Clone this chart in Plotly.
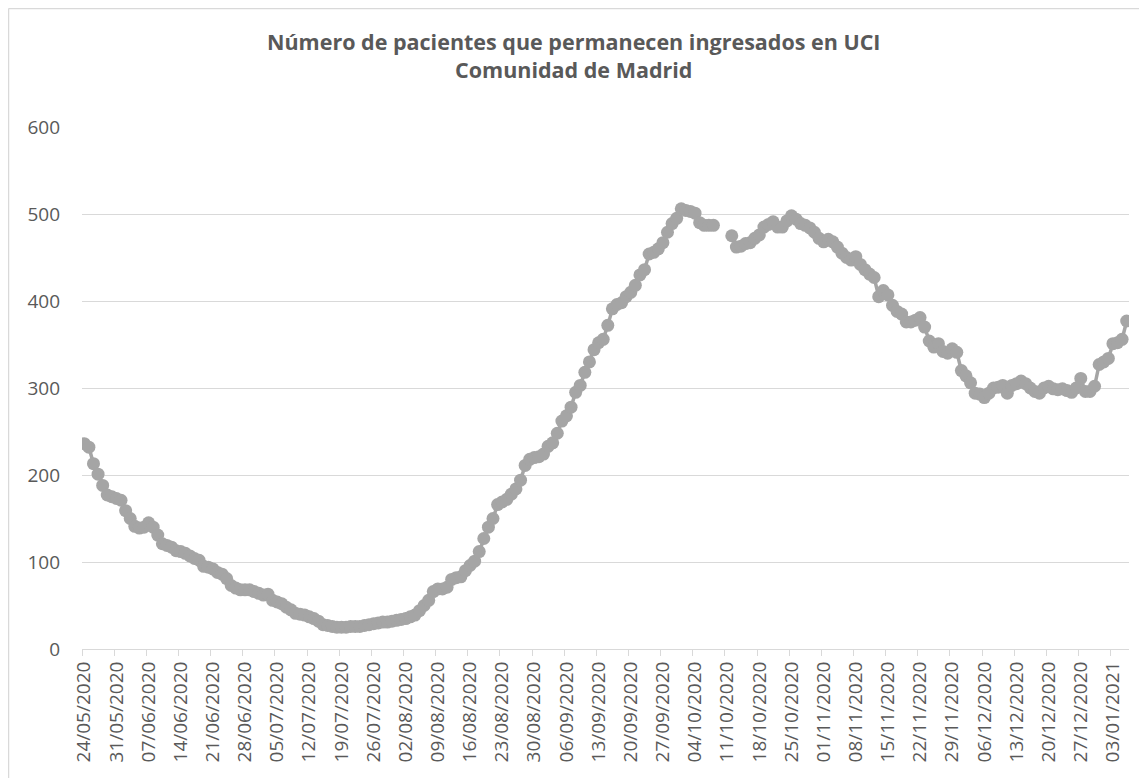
import plotly.graph_objects as go
import pandas as pd

start_date = "2020-05-24"

# Pacientes ingresados en UCI; None = sin dato
uci = [
    236, 232, 213, 201, 188, 177, 175, 173, 171, 159,
    150, 141, 139, 140, 145, 140, 131, 121, 119, 117,
    113, 112, 110, 107, 104, 102, 95, 94, 92, 88,
    86, 81, 73, 70, 68, 68, 68, 66, 64, 62,
    63, 56, 54, 52, 48, 45, 41, 40, 39, 37,
    35, 32, 28, 27, 26, 25, 25, 25, 26, 26,
    26, 27, 28, 29, 30, 31, 31, 32, 33, 34,
    35, 37, 39, 44, 50, 56, 66, 69, 69, 71,
    80, 82, 83, 90, 96, 101, 112, 127, 140, 150,
    166, 169, 172, 178, 184, 194, 211, 218, 220, 221,
    224, 233, 237, 248, 262, 268, 278, 295, 303, 318,
    330, 344, 352, 356, 372, 391, 396, 398, 405, 410,
    418, 430, 436, 454, 456, 460, 467, 479, 489, 495,
    506, 504, 503, 501, 490, 487, 487, 487, None, None,
    None, 475, 462, 463, 466, 467, 472, 476, 485, 488,
    491, 485, 485, 492, 498, 494, 489, 487, 484, 479,
    472, 468, 471, 468, 462, 455, 450, 447, 451, 442,
    436, 431, 427, 405, 412, 407, 395, 388, 385, 376,
    376, 378, 381, 370, 354, 347, 351, 342, 340, 345,
    341, 320, 314, 306, 294, 293, 289, 294, 300, 301,
    303, 294, 303, 305, 308, 305, 300, 296, 294, 300,
    302, 299, 298, 299, 297, 295, 300, 311, 296, 296,
    302, 327, 330, 334, 351, 352, 356, 377,
]

dates = pd.date_range(start_date, periods=len(uci)).strftime("%Y-%m-%d").tolist()

title_line1 = "Número de pacientes que permanecen ingresados en UCI"
title_line2 = "Comunidad de Madrid"
y_ticks = [0, 100, 200, 300, 400, 500, 600]

GREY = "#A5A5A5"
TEXT = "#595959"
GRID = "#D9D9D9"
FONT = "Open Sans"

fig = go.Figure(
    go.Scatter(
        x=dates,
        y=uci,
        mode="lines+markers",
        line=dict(color=GREY, width=3.5),
        marker=dict(color=GREY, size=13),
        connectgaps=False,
        hoverinfo="x+y",
    )
)

week = 7 * 86400000
# page body has an 8px margin: figure is sized/offset to compensate
fig.update_layout(
    width=1139,
    height=770,
    margin=dict(l=74, r=18, t=119, b=129),
    paper_bgcolor="white",
    plot_bgcolor="white",
    showlegend=False,
    font=dict(family=FONT, color=TEXT, size=19),
    xaxis=dict(
        type="date",
        range=["2020-05-23 12:00", "2021-01-06 12:00"],
        tick0=dates[0],
        dtick=week,
        tickformat="%d/%m/%Y",
        tickangle=-90,
        ticks="",
        showgrid=False,
        showline=True,
        linecolor=GRID,
        linewidth=1,
        zeroline=False,
        tickfont=dict(family=FONT, color=TEXT, size=19),
        ticklabelstandoff=4,
        minor=dict(
            tick0="2020-05-23 12:00",
            dtick=week,
            ticks="outside",
            ticklen=6,
            tickwidth=1,
            tickcolor=GRID,
            showgrid=False,
        ),
    ),
    yaxis=dict(
        range=[0, 600],
        tickvals=y_ticks,
        ticks="",
        showgrid=True,
        gridcolor=GRID,
        gridwidth=1,
        zeroline=False,
        showline=False,
        tickfont=dict(family=FONT, color=TEXT, size=19),
        ticklabelstandoff=21,
    ),
    annotations=[
        dict(text="<b>%s<br>%s</b>" % (title_line1, title_line2),
             xref="paper", yref="paper",
             x=0.4694, y=1.1365, xanchor="center", yanchor="middle",
             showarrow=False, align="center",
             font=dict(family=FONT, size=21.5, color=TEXT)),
    ],
    shapes=[
        dict(type="line", xref="paper", yref="paper", x0=-0.0702, x1=1.1,
             y0=1.227, y1=1.227, line=dict(color=GRID, width=1.5)),
        dict(type="line", xref="paper", yref="paper", x0=-0.0702, x1=-0.0702,
             y0=1.227, y1=-0.3, line=dict(color=GRID, width=1.5)),
    ],
)

fig.write_html("out.html")
